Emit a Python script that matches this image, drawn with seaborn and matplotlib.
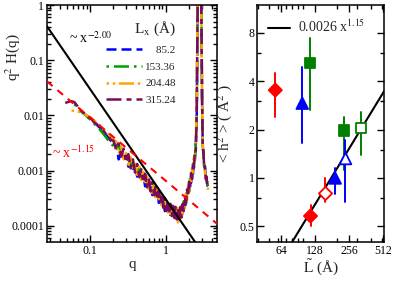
import matplotlib
matplotlib.use("Agg")
import matplotlib.pyplot as plt
import seaborn as sns
import numpy as np
import pandas as pd
from matplotlib.lines import Line2D
from matplotlib.ticker import FixedLocator, NullFormatter, LogLocator, FuncFormatter

# ---------------- data: left panel ----------------
q_grid = [0.047, 0.052, 0.057, 0.062, 0.068, 0.074, 0.081, 0.088, 0.095, 0.103,
          0.112, 0.122, 0.133, 0.145, 0.158, 0.172, 0.187, 0.203, 0.220, 0.238,
          0.257, 0.277, 0.298, 0.320, 0.343, 0.367, 0.392, 0.418, 0.445, 0.473,
          0.502, 0.532, 0.563, 0.595, 0.628, 0.662, 0.697, 0.733, 0.770, 0.808,
          0.847, 0.887, 0.928, 0.970, 1.013, 1.057, 1.102, 1.148, 1.195, 1.243,
          1.292, 1.342, 1.393, 1.445, 1.498, 1.552, 1.607, 1.663, 1.720, 1.778,
          1.837, 1.897, 1.958, 2.020, 2.083, 2.147, 2.212, 2.278, 2.345, 2.413,
          2.482, 2.552, 2.60, 2.65, 2.72, 2.80, 2.88, 2.95, 3.00, 3.06,
          3.13, 3.20, 3.28, 3.36, 3.44, 3.52, 3.60]

series_labels = ["85.2", "153.36", "204.48", "315.24"]
series_start = [6, 3, 2, 0]

h_85 = [0.0110, 0.0102, 0.0094, 0.0085, 0.0077, 0.0068, 0.0061, 0.0053, 0.0047, 0.0041, 0.0035, 0.0030,
        0.0033, 0.0016, 0.0021, 0.0017, 0.0019, 0.00118, 0.00145, 0.00108, 0.00130, 0.00078,
        0.00098, 0.00070, 0.00086, 0.00052, 0.00065, 0.00048, 0.00060, 0.00036, 0.00046, 0.00034,
        0.00043, 0.00026, 0.00033, 0.00024, 0.00031, 0.000185, 0.00024, 0.000185, 0.00024, 0.000150,
        0.00020, 0.000150, 0.00020, 0.000128, 0.000170, 0.000138, 0.000190, 0.000128, 0.000190, 0.000165,
        0.00026, 0.00020, 0.00032, 0.00030, 0.00049, 0.00038, 0.00069, 0.00060, 0.00100, 0.00088,
        0.0016, 0.0016, 0.0030,
        0.010, 0.25, 2.5, 5.5, 7.5, 4.8, 0.42, 0.019, 0.0029, 0.0020, 0.0012, 0.0011,
        0.00074, 0.00072, 0.00054, 0.00052]

h_153 = [0.0160, 0.0140, 0.0122, 0.0110, 0.0100, 0.0090, 0.0082, 0.0072, 0.0064, 0.0056, 0.0049,
         0.0042, 0.0036, 0.0031, 0.0028,
         0.0024, 0.0030, 0.0022, 0.0017, 0.0020, 0.0016, 0.00120, 0.00156, 0.00115, 0.00089,
         0.00114, 0.00085, 0.00065, 0.00084, 0.00063, 0.00049, 0.00064, 0.00049, 0.00038, 0.00049,
         0.00038, 0.00030, 0.00038, 0.00029, 0.00023, 0.00030, 0.00023, 0.000187, 0.00025, 0.00020,
         0.000162, 0.00022, 0.000175, 0.000145, 0.00020, 0.000165, 0.000140, 0.00020, 0.00018, 0.00017,
         0.00028, 0.00027, 0.00026, 0.00043, 0.00043, 0.00043, 0.00072, 0.00072, 0.00075, 0.00132,
         0.0014, 0.0016, 0.0034,
         0.012, 0.28, 2.8, 6.0, 7.0, 5.0, 0.45, 0.018, 0.0028, 0.0019, 0.0012, 0.0010,
         0.00075, 0.00070, 0.00055, 0.00050]

h_204 = [0.0123, 0.0121, 0.0118, 0.0115, 0.0110, 0.0102, 0.0096, 0.0090, 0.0082, 0.0074, 0.0067,
         0.0060, 0.0053, 0.0047, 0.0041, 0.0036,
         0.0034, 0.0020, 0.0027, 0.0016, 0.0021, 0.00128, 0.00175, 0.00104, 0.00144, 0.00084,
         0.00118, 0.00068, 0.00095, 0.00056, 0.00079, 0.00046, 0.00066, 0.00039, 0.00056, 0.00033,
         0.00047, 0.00028, 0.00040, 0.00023, 0.00034, 0.00020, 0.00029, 0.000175, 0.00026, 0.000160,
         0.00024, 0.000144, 0.00022, 0.000125, 0.00021, 0.000115, 0.00021, 0.000135, 0.00023, 0.000160,
         0.00029, 0.00021, 0.00039, 0.00029, 0.00054, 0.00040, 0.00075, 0.00058, 0.00110, 0.00088,
         0.00175, 0.0015, 0.0034,
         0.014, 0.35, 3.2, 6.5, 8.0, 4.5, 0.35, 0.022, 0.0032, 0.0018, 0.0013, 0.00090,
         0.00085, 0.00060, 0.00066, 0.00045]

h_315 = [0.0168, 0.0177, 0.0181, 0.0174, 0.0148, 0.0126, 0.0113, 0.0107, 0.0093, 0.0088, 0.0075,
         0.0070, 0.0060, 0.0057, 0.0048, 0.0045, 0.0036, 0.0035,
         0.0024, 0.0031, 0.0018, 0.0025, 0.0014, 0.0020, 0.0011, 0.0016, 0.00092, 0.00132,
         0.00076, 0.00106, 0.00061, 0.00088, 0.00050, 0.00073, 0.00042, 0.00062, 0.00036, 0.00052,
         0.00030, 0.00044, 0.00026, 0.00037, 0.00021, 0.00032, 0.000185, 0.00028, 0.000165, 0.00025,
         0.000150, 0.00023, 0.000138, 0.00022, 0.000130, 0.00021, 0.000130, 0.00022, 0.000142, 0.00025,
         0.000185, 0.00034, 0.00025, 0.00045, 0.00034, 0.00063, 0.00048, 0.00090, 0.00070, 0.00138,
         0.00112, 0.0024, 0.0023,
         0.011, 0.30, 3.0, 6.0, 8.0, 5.0, 0.40, 0.020, 0.0030, 0.0021, 0.0011, 0.0012,
         0.00070, 0.00078, 0.00052, 0.00056]

series_values = [h_85, h_153, h_204, h_315]
series_colors = ["#0000ff", "#00a000", "#ffa500", "#7a0a5a"]
series_dashes = [(4, 2), (1, 2, 6, 2), (1, 1.5, 1, 1.5, 6, 1.5), (6, 2, 2, 2)]

amp_m200 = 3.0e-4   # ~ x^-2.00
amp_m115 = 6.5e-4   # ~ x^-1.15

# ---------------- data: right panel ----------------
L_tilde = [56.5, 98, 115.6, 231, 327, 236, 192, 157, 116]
h2_mean = [3.52, 2.92, 5.17, 1.97, 2.06, 1.33, 1.00, 0.81, 0.58]
h2_low = [2.40, 1.66, 2.66, 1.12, 1.39, 0.71, 0.79, 0.71, 0.50]
h2_high = [4.48, 4.88, 7.46, 2.41, 2.58, 1.73, 1.15, 1.00, 0.68]
pt_colors = ["#ff0000", "#0000ff", "#008000", "#008000", "#008000", "#0000ff", "#0000ff", "#ff0000", "#ff0000"]
pt_markers = ["D", "^", "s", "s", "s", "^", "^", "D", "D"]
pt_filled = [True, True, True, True, False, False, True, False, True]
fit_amp = 0.0026
fit_exp = 1.15

# ---------------- style ----------------
sns.set_style("ticks")
plt.rcParams["font.family"] = ["Liberation Serif", "DejaVu Serif"]
plt.rcParams["mathtext.fontset"] = "stix"
plt.rcParams["axes.linewidth"] = 1.1
plt.rcParams["axes.edgecolor"] = "black"

fig = plt.figure(figsize=(3.95, 2.82), dpi=100)
ax1 = fig.add_axes([0.119, 0.142, 0.430, 0.840])
ax2 = fig.add_axes([0.651, 0.142, 0.321, 0.840])

# ---------------- left panel ----------------
rows = []
for lab, st, vals in zip(series_labels, series_start, series_values):
    for qv, hv in zip(q_grid[st:], vals):
        rows.append({"q": qv, "v": hv, "L": lab})
df = pd.DataFrame(rows)

sns.lineplot(data=df, x="q", y="v", hue="L", style="L",
             hue_order=series_labels, style_order=series_labels,
             palette=dict(zip(series_labels, series_colors)),
             dashes=dict(zip(series_labels, series_dashes)),
             sort=False, estimator=None, legend=False, lw=1.8, ax=ax1)

ax1.set_xscale("log")
ax1.set_yscale("log")
xl1 = (0.027, 4.7)
ax1.set_xlim(*xl1)
ax1.set_ylim(5.1e-5, 1.0)
qq = np.geomspace(xl1[0], xl1[1], 200)
ax1.plot(qq, amp_m200 * qq ** -2.0, color="black", lw=1.5, zorder=5)
ax1.plot(qq, amp_m115 * qq ** -1.15, color="red", lw=1.5, ls=(0, (3.5, 3)), zorder=5)

ax1.text(0.052, 0.25, r"~ x$^{-2.00}$", fontsize=10, color="black", va="center", ha="left")
ax1.text(0.031, 0.0021, r"~ x$^{-1.15}$", fontsize=10, color="red", va="center", ha="left")

fmt = FuncFormatter(lambda v, p: "%g" % v)
ax1.xaxis.set_major_locator(FixedLocator([0.1, 1]))
ax1.xaxis.set_major_formatter(fmt)
ax1.xaxis.set_minor_locator(LogLocator(base=10, subs=np.arange(2, 10)))
ax1.xaxis.set_minor_formatter(NullFormatter())
ax1.yaxis.set_major_locator(FixedLocator([1e-4, 1e-3, 1e-2, 1e-1, 1]))
ax1.yaxis.set_major_formatter(fmt)
ax1.yaxis.set_minor_locator(LogLocator(base=10, subs=np.arange(2, 10)))
ax1.yaxis.set_minor_formatter(NullFormatter())
ax1.set_xlabel("q", fontsize=11, labelpad=1)
ax1.set_ylabel(r"q$^2$ H(q)", fontsize=11)
ax1.yaxis.set_label_coords(-0.15, 0.78)

handles = [Line2D([], [], color=c, lw=1.8, dashes=d) for c, d in zip(series_colors, series_dashes)]
leg_labels = ["    85.2", "153.36", "204.48", "315.24"]
leg = ax1.legend(handles, leg_labels, title=r"L$_{\mathrm{x}}$ (Å)", loc="upper right",
                 bbox_to_anchor=(0.79, 0.96), frameon=False, fontsize=8,
                 title_fontsize=11, handlelength=3.2, handletextpad=0.3,
                 labelspacing=0.62, borderpad=0.0, alignment="right")

# ---------------- right panel ----------------
for x, lo, hi, c in zip(L_tilde, h2_low, h2_high, pt_colors):
    ax2.plot([x, x], [lo, hi], color=c, lw=1.4, zorder=3)
for mk in ["D", "^", "s"]:
    for fl in [True, False]:
        sel = [i for i in range(len(L_tilde)) if pt_markers[i] == mk and pt_filled[i] == fl]
        if not sel:
            continue
        ms = {"D": 45, "^": 70, "s": 55}[mk]
        cols = [pt_colors[i] for i in sel]
        sns.scatterplot(x=[L_tilde[i] for i in sel], y=[h2_mean[i] for i in sel],
                        marker=mk, s=ms, ax=ax2, legend=False, zorder=4,
                        facecolor=cols if fl else "white", edgecolor=cols, linewidth=1.3)

ax2.set_xscale("log")
ax2.set_yscale("log")
xl2 = (39, 520)
ax2.set_xlim(*xl2)
ax2.set_ylim(0.40, 11.9)
xf = np.geomspace(xl2[0], xl2[1], 100)
ax2.plot(xf, fit_amp * xf ** fit_exp, color="black", lw=1.5, zorder=2)

ax2.xaxis.set_major_locator(FixedLocator([64, 128, 256, 512]))
ax2.xaxis.set_major_formatter(fmt)
ax2.xaxis.set_minor_locator(LogLocator(base=10, subs=np.arange(1, 10)))
ax2.xaxis.set_minor_formatter(NullFormatter())
ax2.yaxis.set_major_locator(FixedLocator([0.5, 1, 2, 4, 8]))
ax2.yaxis.set_major_formatter(fmt)
ax2.yaxis.set_minor_locator(FixedLocator([0.75, 1.5, 3, 6]))
ax2.yaxis.set_minor_formatter(NullFormatter())
ax2.set_xlabel(r"$\tilde{\mathrm{L}}$ (Å)", fontsize=11, labelpad=1)
ax2.set_ylabel(r"< h$^2$ > ( Å$^2$ )", fontsize=11, labelpad=4)
ax2.legend([Line2D([], [], color="black", lw=1.5)], [r"0.0026 x$^{1.15}$"],
           loc="upper left", bbox_to_anchor=(0.04, 0.965), borderaxespad=0.0,
           frameon=False, fontsize=10, handlelength=1.6, handletextpad=0.6)

for ax in (ax1, ax2):
    ax.tick_params(which="both", direction="in", top=True, right=True, labelsize=8.5,
                   colors="black", width=1.0)
    ax.tick_params(which="major", length=5, pad=2)
    ax.tick_params(which="minor", length=3)

fig.savefig("out.png", dpi=100)
